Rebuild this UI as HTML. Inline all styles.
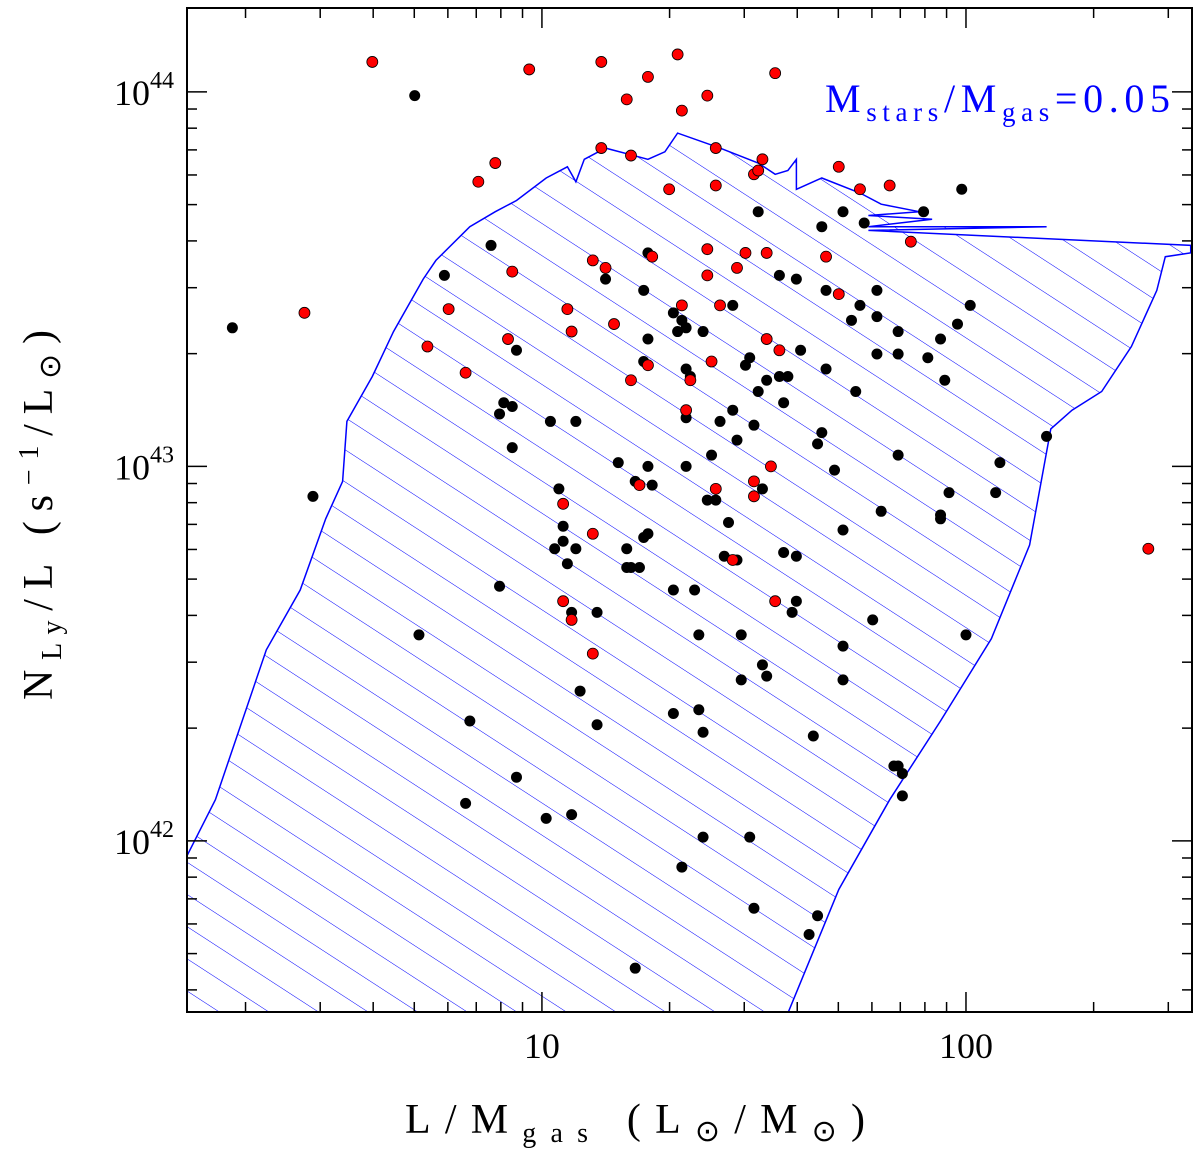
<!DOCTYPE html>
<html><head><meta charset="utf-8"><style>
body{margin:0;background:#fff}
svg{display:block;font-family:"Liberation Serif",serif}
</style></head><body>
<svg id="chart" width="1200" height="1151" viewBox="0 0 1200 1151" xmlns="http://www.w3.org/2000/svg">
<defs>
<pattern id="hatch" patternUnits="userSpaceOnUse" width="27" height="27" patternTransform="rotate(33)">
<line x1="0" y1="0" x2="27" y2="0" stroke="#0000ff" stroke-width="1.1"/>
</pattern>
<clipPath id="plotclip"><rect x="187" y="8" width="1005" height="1004"/></clipPath>
</defs>
<g id="region" clip-path="url(#plotclip)"></g>
<g id="points" clip-path="url(#plotclip)"></g>
<rect x="187" y="8" width="1005" height="1004" fill="none" stroke="#000" stroke-width="2"/>
<g id="ticks"></g>
<text x="405" y="1133" font-size="42" textLength="460" lengthAdjust="spacing">L/M<tspan font-size="28" dy="9">gas</tspan><tspan dy="-9"> (L</tspan><tspan font-size="30" dy="8">⊙</tspan><tspan dy="-8">/M</tspan><tspan font-size="30" dy="8">⊙</tspan><tspan dy="-8">)</tspan></text>
<text transform="translate(52,700) rotate(-90)" font-size="42" textLength="370" lengthAdjust="spacing">N<tspan font-size="28" dy="9">Ly</tspan><tspan dy="-9">/L (s</tspan><tspan font-size="28" dy="-14">−1</tspan><tspan dy="14">/L</tspan><tspan font-size="30" dy="8">⊙</tspan><tspan dy="-8">)</tspan></text>
<text x="825" y="112" font-size="40" fill="#0000ff" textLength="345" lengthAdjust="spacing">M<tspan font-size="27" dy="9">stars</tspan><tspan dy="-9">/M</tspan><tspan font-size="27" dy="9">gas</tspan><tspan dy="-9">=0.05</tspan></text>
</svg>
<script>
// data in log10 units: x = log10(L/Mgas), y = log10(N_Ly/L)
const blackX=[0.27,0.70,0.46,0.77,0.88,0.90,0.91,0.93,0.93,0.94,1.02,1.03,1.04,1.05,1.05,1.06,1.07,1.08,1.08,1.09,1.01,1.07,0.83,0.71,0.82,0.90,0.94,1.13,1.13,1.15,1.18,1.20,1.20,1.21,1.22,1.23,1.24,1.24,1.24,1.25,1.25,1.25,1.25,1.26,1.31,1.31,1.31,1.32,1.33,1.33,1.34,1.34,1.34,1.34,1.35,1.36,1.37,1.37,1.38,1.38,1.38,1.39,1.40,1.41,1.41,1.42,1.43,1.44,1.45,1.45,1.46,1.46,1.47,1.47,1.48,1.49,1.49,1.50,1.50,1.51,1.51,1.52,1.53,1.52,1.53,1.56,1.56,1.57,1.57,1.58,1.59,1.60,1.60,1.61,1.60,1.63,1.64,1.65,1.66,1.66,1.67,1.67,1.69,1.71,1.71,1.71,1.73,1.74,1.75,1.76,1.78,1.79,1.79,1.79,1.80,1.83,1.84,1.84,1.84,1.84,1.85,1.85,1.91,1.94,1.94,1.94,1.95,1.96,1.98,1.99,2.00,2.01,2.08,2.19,1.22,1.65,1.71,1.90,2.07];
const blackY=[43.37,43.99,42.92,43.51,43.59,43.14,43.17,43.05,43.16,43.31,43.12,42.78,42.94,42.80,42.84,42.74,42.61,42.78,43.12,42.40,42.06,42.07,42.32,42.55,42.10,42.68,42.17,42.61,42.31,43.50,43.01,42.78,42.73,42.73,42.96,42.73,42.81,43.28,43.47,43.57,43.34,43.00,42.82,42.95,43.41,42.34,42.67,43.36,43.39,41.93,43.26,43.37,43.13,43.00,43.24,42.67,42.55,42.35,42.29,42.01,43.36,42.91,43.03,42.94,42.91,43.12,42.76,42.85,43.43,43.15,43.07,42.75,42.43,42.55,43.27,43.29,42.01,41.82,43.11,43.20,43.68,42.47,42.44,42.94,43.23,43.24,43.51,42.77,43.17,43.24,42.61,42.64,42.76,43.31,43.50,41.75,42.28,43.06,43.64,43.09,43.26,43.47,42.99,42.83,42.43,42.52,43.39,43.20,43.43,43.65,42.59,43.47,43.40,43.30,42.88,42.20,42.20,43.03,43.30,43.36,42.12,42.18,43.29,42.87,42.86,43.34,43.23,42.93,43.38,43.74,42.55,43.43,43.01,43.08,41.66,41.80,43.68,43.68,42.93];
const redX=[0.60,0.97,1.14,1.20,1.25,1.32,1.33,1.39,1.55,0.44,0.73,0.82,0.78,0.85,0.89,0.93,0.92,1.05,1.05,1.06,1.07,1.07,1.12,1.12,1.12,1.14,1.15,1.17,1.21,1.21,1.23,1.25,1.26,1.30,1.33,1.34,1.35,1.39,1.39,1.40,1.41,1.41,1.41,1.42,1.45,1.46,1.48,1.50,1.50,1.50,1.51,1.52,1.53,1.53,1.54,1.55,1.56,1.67,1.70,1.70,1.75,1.82,1.87,2.43];
const redY=[44.08,44.06,44.08,43.98,44.04,44.10,43.95,43.99,44.05,43.41,43.32,43.25,43.42,43.76,43.81,43.52,43.34,42.90,42.64,43.42,43.36,42.59,43.55,42.50,42.82,43.85,43.53,43.38,43.83,43.23,42.95,43.27,43.56,43.74,43.43,43.15,43.23,43.58,43.51,43.28,43.75,42.94,43.85,43.43,42.75,43.53,43.57,43.78,42.96,42.92,43.79,43.82,43.34,43.57,43.00,42.64,43.31,43.56,43.80,43.46,43.74,43.75,43.60,42.78];
const regionX=[0.163,0.23,0.35,0.43,0.49,0.53,0.54,0.60,0.65,0.72,0.75,0.83,0.89,0.94,1.01,1.06,1.08,1.10,1.15,1.25,1.29,1.32,1.42,1.51,1.55,1.58,1.60,1.60,1.66,1.75,1.80,1.89,1.77,1.92,1.77,2.19,1.77,2.53,2.53,2.47,2.45,2.39,2.32,2.25,2.20,2.15,2.06,1.94,1.82,1.70,1.58,0.163];
const regionY=[41.96,42.11,42.51,42.67,42.86,42.96,43.12,43.24,43.36,43.50,43.55,43.64,43.68,43.71,43.77,43.80,43.76,43.82,43.85,43.82,43.84,43.89,43.85,43.81,43.78,43.79,43.82,43.74,43.77,43.73,43.70,43.68,43.67,43.66,43.64,43.64,43.63,43.59,43.57,43.56,43.47,43.32,43.20,43.15,43.10,42.79,42.54,42.32,42.11,41.87,41.54,41.54];
const xTickLabels=["10","100"];
const xTickVals=[1,2];
const yTickVals=[42,43,44];

const NS="http://www.w3.org/2000/svg";
const X0=187,X1=1192,Y0=1012,Y1=8;
const xmin=0.163,xmax=2.533,ymin=41.543,ymax=44.224;
function sx(v){return X0+(v-xmin)/(xmax-xmin)*(X1-X0);}
function sy(v){return Y0-(v-ymin)/(ymax-ymin)*(Y0-Y1);}
function mk(tag,attrs,parent){const e=document.createElementNS(NS,tag);for(const k in attrs)e.setAttribute(k,attrs[k]);parent.appendChild(e);return e;}

const reg=document.getElementById('region');
const pts=regionX.map((v,i)=>sx(v).toFixed(1)+','+sy(regionY[i]).toFixed(1)).join(' ');
const poly=mk('polygon',{points:pts,fill:'url(#hatch)',stroke:'#0000ff','stroke-width':1.5},reg);



const pg=document.getElementById('points');
blackX.forEach((v,i)=>{
  const c=mk('circle',{cx:sx(v),cy:sy(blackY[i]),r:5.5,fill:'#000'},pg);
  
  
});
redX.forEach((v,i)=>{
  const c=mk('circle',{cx:sx(v),cy:sy(redY[i]),r:5.5,fill:'#ff0000',stroke:'#000','stroke-width':0.8},pg);
  
  
});

const tg=document.getElementById('ticks');
for(let d=0;d<=2;d++){for(let m=1;m<=9;m++){
  const lv=d+Math.log10(m); if(lv<xmin||lv>xmax)continue;
  const L=m===1?20:10,x=sx(lv);
  mk('line',{x1:x,y1:Y0,x2:x,y2:Y0-L,stroke:'#000','stroke-width':1.5},tg);
  mk('line',{x1:x,y1:Y1,x2:x,y2:Y1+L,stroke:'#000','stroke-width':1.5},tg);
}}
xTickVals.forEach((v,i)=>{
  const t=mk('text',{x:sx(v),y:1058,'font-size':36,'text-anchor':'middle'},tg);
  t.textContent=xTickLabels[i];
  
  
});
for(let d=41;d<=44;d++){for(let m=1;m<=9;m++){
  const lv=d+Math.log10(m); if(lv<ymin||lv>ymax)continue;
  const L=m===1?20:10,y=sy(lv);
  mk('line',{x1:X0,y1:y,x2:X0+L,y2:y,stroke:'#000','stroke-width':1.5},tg);
  mk('line',{x1:X1,y1:y,x2:X1-L,y2:y,stroke:'#000','stroke-width':1.5},tg);
}}
yTickVals.forEach(v=>{
  const t=mk('text',{x:174,y:sy(v)+13,'font-size':36,'text-anchor':'end'},tg);
  t.textContent='10';
  const s=mk('tspan',{'font-size':24,dy:-17},t);
  s.textContent=String(v);
  
  
});
</script>
</body></html>
